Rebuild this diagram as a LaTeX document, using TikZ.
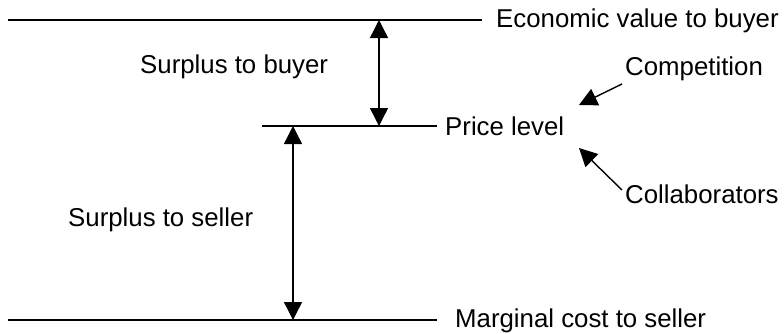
\documentclass[tikz,border=0pt]{standalone}
\usepackage{fontspec}
\setmainfont{Liberation Sans}
\usetikzlibrary{arrows.meta}
\begin{document}
\begin{tikzpicture}[x=1pt,y=-1pt,
  lvl/.style={line width=1.4pt},
  lbl/.style={anchor=base west,inner sep=0pt,font=\fontsize{25.8}{30}\selectfont},
  arr/.style={line width=1.4pt,-{Triangle[length=18pt,width=18pt]}},
  darr/.style={line width=1.4pt,{Triangle[length=18pt,width=18pt]}-{Triangle[length=18pt,width=18pt]}}]
\useasboundingbox (0,0) rectangle (784,333);
% levels
\coordinate (t1) at (8,20);
\coordinate (t2) at (482,20);
\coordinate (p1) at (262,126);
\coordinate (p2) at (437,126);
\coordinate (b1) at (8,320);
\coordinate (b2) at (437,320);
\draw[lvl] (t1) -- (t2);
\draw[lvl] (p1) -- (p2);
\draw[lvl] (b1) -- (b2);
% labels
\node[lbl] (ev) at (496,27) {Economic value to buyer};
\node[lbl] (pl) at (445,135) {Price level};
\node[lbl] (mc) at (455,327) {Marginal cost to seller};
\node[lbl] (sb) at (140,73) {Surplus to buyer};
\node[lbl] (ss) at (68,226) {Surplus to seller};
\node[lbl] (co) at (625,75) {Competition};
\node[lbl] (cl) at (625,203) {Collaborators};
% double arrows
\coordinate (a1t) at (379,20);
\coordinate (a1b) at (379,126);
\coordinate (a2t) at (293,126);
\coordinate (a2b) at (293,320);
\draw[darr] (a1t) -- (a1b);
\draw[darr] (a2t) -- (a2b);
% influence arrows
\coordinate (cot) at (622,84);
\coordinate (coh) at (579,105);
\coordinate (clt) at (622,190);
\coordinate (clh) at (579,148);
\draw[arr] (cot) -- (coh);
\draw[arr] (clt) -- (clh);
\end{tikzpicture}
\end{document}
